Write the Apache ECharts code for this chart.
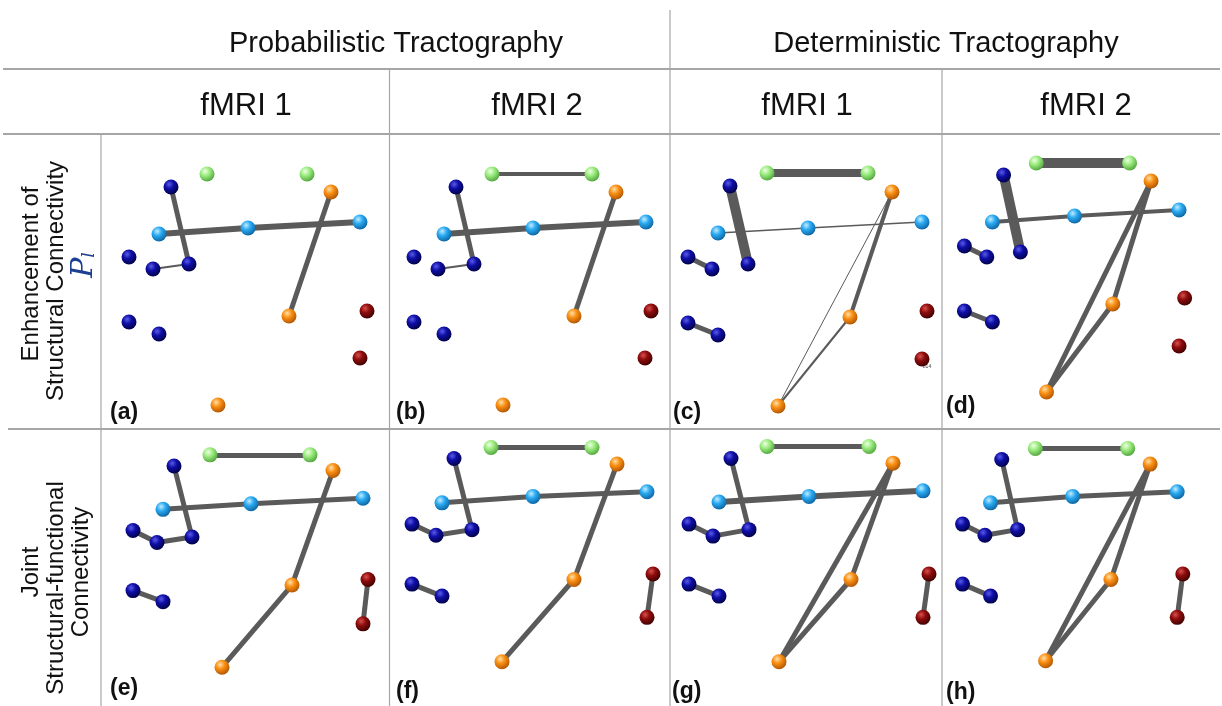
<!DOCTYPE html>
<html>
<head>
<meta charset="utf-8">
<script src="https://cdn.jsdelivr.net/npm/echarts@6/dist/echarts.min.js"></script>
<style>
html,body{margin:0;padding:0;background:#fff;}
#main{width:1222px;height:706px;}
</style>
</head>
<body>
<div id="main"></div>
<script>
// ---------------- DATA ----------------
const columnGroups = ['Probabilistic Tractography', 'Deterministic Tractography'];
const columnTitles = ['fMRI 1', 'fMRI 2', 'fMRI 1', 'fMRI 2'];
const rowTitle1 = ['Enhancement of', 'Structural Connectivity'];
const rowTitle2 = ['Joint', 'Structural-functional', 'Connectivity'];
const panelLabels = ['(a)', '(b)', '(c)', '(d)', '(e)', '(f)', '(g)', '(h)'];

// node order: N1..N6 (navy), L1..L3 (sky blue), G1,G2 (green), O1..O3 (orange), R1,R2 (dark red)
const nodeNames  = ['N1','N2','N3','N4','N5','N6','L1','L2','L3','G1','G2','O1','O2','O3','R1','R2'];
const nodeGroups = ['navy','navy','navy','navy','navy','navy','sky','sky','sky','green','green','orange','orange','orange','red','red'];

// node positions (panel-local units)
const posA = [[70,53],[88,130],[52,135],[28,123],[28,188],[58,200],[58,100],[147,94],[259,88],[106,40],[206,40],[230,58],[188,182],[117,271],[266,177],[259,224]];
const posB = [[67,53],[85,130],[49,135],[25,123],[25,188],[55,200],[55,100],[144,94],[257,88],[103,40],[203,40],[227,58],[185,182],[114,271],[262,177],[256,224]];
const posC = [[60,52],[78,130],[42,135],[18,123],[18,189],[48,201],[48,99],[138,94],[252,88],[97,39],[198,39],[222,58],[180,183],[108,272],[257,177],[252,225]];
const posD = [[66,41],[84,118],[48,123],[24,112],[24,177],[54,188],[54,88],[142,82],[254,76],[101,29],[201,29],[224,47],[183,170],[112,258],[260,164],[254,212]];
const posE = [[73,40],[91,117],[56,123],[32,110],[32,175],[62,187],[62,87],[150,81],[262,75],[109,28],[209,28],[232,45],[191,169],[121,258],[267,163],[262,211]];
const posF = [[65,32],[83,109],[47,115],[23,103],[23,168],[53,181],[53,80],[144,73],[258,68],[102,20],[203,20],[228,38],[185,163],[113,252],[264,157],[258,204]];
const posG = [[61,32],[79,109],[43,116],[19,103],[19,168],[49,181],[49,79],[139,73],[253,67],[97,19],[199,19],[223,37],[181,163],[109,252],[259,157],[253,204]];
const posH = [[64,33],[81,109],[46,115],[22,103],[22,168],[52,181],[52,80],[140,73],[252,68],[100,21],[199,21],[223,38],[181,163],[111,251],[258,157],[252,204]];

// edges: [from, to, strength]
const edgesA = [['N1','N2',5],['N3','N2',2],['L1','L2',6],['L2','L3',6],['O1','O2',5]];
const edgesB = [['G1','G2',4],['N1','N2',5],['N3','N2',2],['L1','L2',6],['L2','L3',6],['O1','O2',5]];
const edgesC = [['G1','G2',8],['N1','N2',10],['L1','L2',1.5],['L2','L3',1.5],['N4','N3',5],['N5','N6',5],['O1','O2',4],['O1','O3',1],['O2','O3',2]];
const edgesD = [['G1','G2',10],['N1','N2',10],['L1','L2',4],['L2','L3',4],['N4','N3',5],['N5','N6',5],['O1','O2',5],['O1','O3',5],['O2','O3',5]];
const edgesE = [['G1','G2',5],['N1','N2',5],['L1','L2',5],['L2','L3',5],['N4','N3',5],['N3','N2',5],['N5','N6',5],['O1','O2',5],['O2','O3',5],['R1','R2',5]];
const edgesF = [['G1','G2',5],['N1','N2',5],['L1','L2',5],['L2','L3',5],['N4','N3',5],['N3','N2',5],['N5','N6',5],['O1','O2',5],['O2','O3',5],['R1','R2',5]];
const edgesG = [['G1','G2',5],['N1','N2',5],['L1','L2',6],['L2','L3',6],['N4','N3',5],['N3','N2',5],['N5','N6',5],['O1','O2',5],['O1','O3',5],['O2','O3',5],['R1','R2',5]];
const edgesH = [['G1','G2',5],['N1','N2',5],['L1','L2',5],['L2','L3',5],['N4','N3',5],['N3','N2',5],['N5','N6',5],['O1','O2',5],['O1','O3',5],['O2','O3',5],['R1','R2',5]];

// ---------------- LAYOUT / STYLE ----------------
const panels = [
  {pos: posA, edges: edgesA}, {pos: posB, edges: edgesB}, {pos: posC, edges: edgesC}, {pos: posD, edges: edgesD},
  {pos: posE, edges: edgesE}, {pos: posF, edges: edgesF}, {pos: posG, edges: edgesG}, {pos: posH, edges: edgesH}
];
const colX = [101, 389, 670, 942];
const rowY = [134, 429];
const labelPos = [[110,413],[396,413],[673,413],[946,407],[110,689],[396,692],[672,692],[946,693]];

function ball(c0, c1, c2) {
  return {type: 'radial', x: 0.38, y: 0.32, r: 0.75,
    colorStops: [{offset: 0, color: c0}, {offset: 0.4, color: c1}, {offset: 1, color: c2}]};
}
const groupColors = {
  navy:   ball('#5a5ae8', '#0e0ea6', '#00003c'),
  sky:    ball('#c2ecff', '#2aaaf2', '#0a5c98'),
  green:  ball('#eeffe4', '#9cec80', '#4a9e36'),
  orange: ball('#ffe0a8', '#fa8f12', '#a84f00'),
  red:    ball('#d85050', '#8e0c0c', '#360000')
};

const grids = [], xAxes = [], yAxes = [], series = [];
panels.forEach((p, i) => {
  const col = i % 4, row = Math.floor(i / 4);
  grids.push({left: colX[col], top: rowY[row], width: 300, height: 300, show: false});
  xAxes.push({type: 'value', gridIndex: i, min: 0, max: 300, show: false});
  yAxes.push({type: 'value', gridIndex: i, min: 0, max: 300, inverse: true, show: false});
  series.push({
    type: 'graph',
    coordinateSystem: 'cartesian2d',
    xAxisIndex: i, yAxisIndex: i,
    symbol: 'circle',
    symbolSize: 15,
    silent: true,
    animation: false,
    label: {show: false},
    data: p.pos.map((xy, k) => ({
      name: nodeNames[k], value: xy,
      itemStyle: {color: groupColors[nodeGroups[k]], borderWidth: 0}
    })),
    links: p.edges.map(e => ({
      source: nodeNames.indexOf(e[0]), target: nodeNames.indexOf(e[1]),
      lineStyle: {width: e[2]}
    })),
    lineStyle: {color: '#5a5a5a', opacity: 1, curveness: 0}
  });
});

const lineColor = '#a6a6a6';
const graphics = [];
function hline(y, x1, x2) { graphics.push({type: 'line', shape: {x1: x1, y1: y, x2: x2, y2: y}, style: {stroke: lineColor, lineWidth: 2}}); }
function vline(x, y1, y2) { graphics.push({type: 'line', shape: {x1: x, y1: y1, x2: x, y2: y2}, style: {stroke: lineColor, lineWidth: 1.2}}); }
hline(69, 3, 1220);
hline(134, 3, 1220);
hline(429, 8, 1220);
vline(670, 10, 706);
vline(389.5, 69, 706);
vline(942, 69, 706);
vline(101, 134, 706);

const font = '"Liberation Sans", Arial, sans-serif';
function txt(x, y, s, size, extra) {
  graphics.push(Object.assign({type: 'text', x: x, y: y,
    style: Object.assign({text: s, font: size + 'px ' + font, fill: '#111', textAlign: 'center', textVerticalAlign: 'middle'}, extra && extra.style || {})},
    extra && extra.el || {}));
}
txt(396, 44, columnGroups[0], 29);
txt(946, 44, columnGroups[1], 29);
[246, 537, 807, 1086].forEach((x, i) => txt(x, 106, columnTitles[i], 31));

// row titles (rotated)
const rot = {el: {rotation: Math.PI / 2}};
txt(31, 274, rowTitle1[0], 24, rot);
txt(56, 281, rowTitle1[1], 24, rot);
graphics.push({type: 'text', x: 84, y: 265, rotation: Math.PI / 2,
  style: {text: '{p|P}{s|l}', textAlign: 'center', textVerticalAlign: 'middle',
    rich: {
      p: {fontFamily: '"DejaVu Serif", serif', fontStyle: 'italic', fontSize: 30, fill: '#1c3f94', textShadowColor: '#f0a030', textShadowOffsetX: 1, textShadowOffsetY: 1},
      s: {fontFamily: '"DejaVu Serif", serif', fontStyle: 'italic', fontSize: 17, fill: '#1c3f94', padding: [12, 0, 0, 0]}
    }}});
txt(31, 572, rowTitle2[0], 24, rot);
txt(56, 588, rowTitle2[1], 24, rot);
txt(81, 572, rowTitle2[2], 24, rot);

// panel labels
panelLabels.forEach((s, i) => {
  graphics.push({type: 'text', x: labelPos[i][0], y: labelPos[i][1],
    style: {text: s, font: 'bold 23px ' + font, fill: '#111', textAlign: 'left', textVerticalAlign: 'middle'}});
});
// tiny stray label in panel (c)
graphics.push({type: 'text', x: 927, y: 367, style: {text: 'b14', font: '5px ' + font, fill: '#444', textAlign: 'center', textVerticalAlign: 'middle'}});

const chart = echarts.init(document.getElementById('main'));
chart.setOption({
  animation: false,
  backgroundColor: '#ffffff',
  grid: grids, xAxis: xAxes, yAxis: yAxes,
  series: series,
  graphic: {elements: graphics}
});
</script>
</body>
</html>
